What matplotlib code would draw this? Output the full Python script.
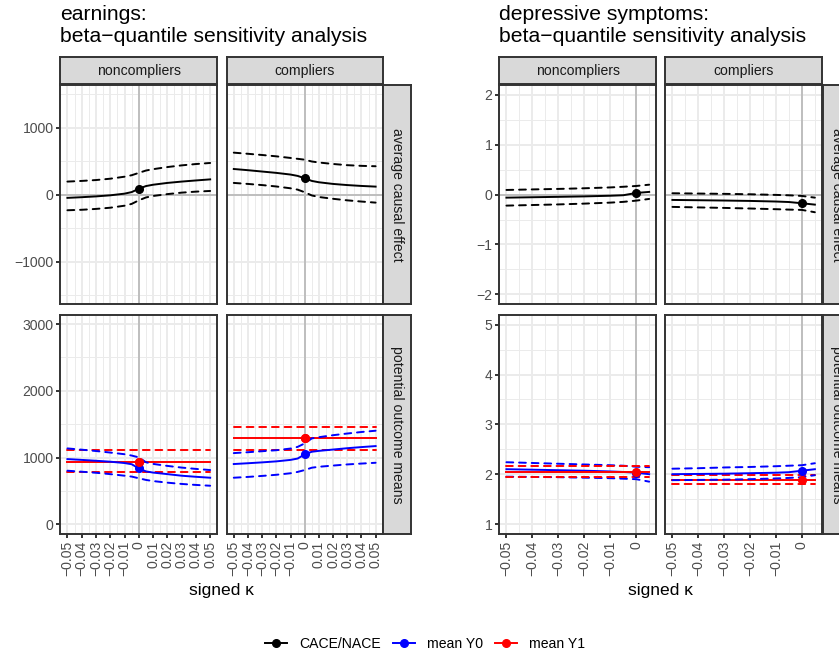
import matplotlib
matplotlib.use('Agg')
import matplotlib.pyplot as plt
from matplotlib.lines import Line2D
import numpy as np

plt.rcParams['font.family'] = ['Liberation Sans', 'DejaVu Sans']

## ---------------- data ----------------
groups = ['noncompliers', 'compliers']
rows = ['average causal effect', 'potential outcome means']
legend_labels = ['CACE/NACE', 'mean Y0', 'mean Y1']

## earnings: signed kappa from -0.05 to 0.05
kappa_earn = [-0.05, -0.04, -0.03, -0.02, -0.01, -0.005, 0, 0.005, 0.01, 0.02, 0.03, 0.04, 0.05]

earn_ace_non = [-48, -38, -26, -10, 15, 38, 88, 128, 148, 175, 195, 212, 228]
earn_ace_non_hi = [195, 205, 218, 238, 268, 290, 325, 360, 380, 412, 437, 457, 473]
earn_ace_non_lo = [-233, -226, -213, -195, -165, -138, -85, -42, -20, 8, 30, 45, 55]

earn_ace_com = [383, 365, 345, 325, 300, 280, 245, 205, 185, 160, 143, 130, 120]
earn_ace_com_hi = [627, 610, 592, 572, 548, 535, 522, 495, 480, 458, 440, 430, 424]
earn_ace_com_lo = [175, 160, 143, 122, 95, 75, 36, -12, -35, -62, -85, -103, -119]

earn_y0_non = [977, 965, 952, 938, 918, 900, 838, 793, 775, 752, 728, 712, 698]
earn_y0_non_hi = [1137, 1118, 1098, 1075, 1050, 1030, 1003, 930, 905, 875, 850, 830, 813]
earn_y0_non_lo = [803, 788, 772, 752, 728, 715, 690, 665, 648, 624, 605, 590, 578]
earn_y1_non = 928
earn_y1_non_hi = 1117
earn_y1_non_lo = 783

earn_y0_com = [903, 915, 928, 943, 965, 985, 1048, 1087, 1100, 1120, 1140, 1157, 1172]
earn_y0_com_hi = [1067, 1080, 1095, 1110, 1135, 1160, 1212, 1287, 1305, 1335, 1360, 1383, 1402]
earn_y0_com_lo = [698, 710, 725, 742, 765, 785, 813, 848, 862, 880, 897, 910, 922]
earn_y1_com = 1292
earn_y1_com_hi = 1457
earn_y1_com_lo = 1112

## depressive symptoms: signed kappa from -0.05 to 0.005
kappa_dep = [-0.05, -0.04, -0.03, -0.02, -0.01, -0.005, 0, 0.005]

dep_ace_non = [-0.06, -0.052, -0.044, -0.035, -0.022, -0.012, 0.034, 0.055]
dep_ace_non_hi = [0.094, 0.105, 0.115, 0.128, 0.145, 0.158, 0.174, 0.2]
dep_ace_non_lo = [-0.22, -0.208, -0.196, -0.18, -0.16, -0.145, -0.12, -0.086]

dep_ace_com = [-0.106, -0.112, -0.118, -0.126, -0.138, -0.148, -0.173, -0.2]
dep_ace_com_hi = [0.028, 0.022, 0.016, 0.008, -0.005, -0.013, -0.026, -0.06]
dep_ace_com_lo = [-0.246, -0.256, -0.266, -0.278, -0.292, -0.3, -0.306, -0.353]

dep_y0_non = [2.10, 2.09, 2.08, 2.07, 2.055, 2.045, 2.03, 2.00]
dep_y0_non_hi = [2.24, 2.225, 2.21, 2.195, 2.18, 2.17, 2.15, 2.14]
dep_y0_non_lo = [1.95, 1.945, 1.94, 1.93, 1.92, 1.91, 1.90, 1.85]
dep_y1_non = 2.05
dep_y1_non_hi = 2.17
dep_y1_non_lo = 1.95

dep_y0_com = [2.00, 2.005, 2.01, 2.02, 2.03, 2.04, 2.07, 2.10]
dep_y0_com_hi = [2.11, 2.12, 2.135, 2.145, 2.16, 2.17, 2.18, 2.22]
dep_y0_com_lo = [1.88, 1.885, 1.89, 1.90, 1.915, 1.925, 1.94, 1.98]
dep_y1_com = 1.89
dep_y1_com_hi = 1.99
dep_y1_com_lo = 1.80

## ---------------- style ----------------
W, H = 839, 655
GRID = '#EBEBEB'
BORDER = '#333333'
STRIP = '#D9D9D9'
TICKTXT = '#4D4D4D'
ZERO = '#BEBEBE'
LW = 1.4
DASH = (0, (3.5, 3))
FS_SMALL = 10.1   ## strip, tick and legend text
FS_TITLE = 15.2
FS_AXIS = 12.6


def box(x0, y0, x1, y1):
    ## pixel box -> figure fraction [left, bottom, width, height]
    return [x0 / W, 1 - y1 / H, (x1 - x0) / W, (y1 - y0) / H]


def fmt(v):
    s = '%g' % v
    return s.replace('-', '\u2212')


def setup_panel(ax, xlim, ylim, xmaj, xmin, ymaj, ymin, show_x, show_y, hline):
    ax.set_xlim(xlim)
    ax.set_ylim(ylim)
    ax.set_xticks(xmaj)
    ax.set_xticks(xmin, minor=True)
    ax.set_yticks(ymaj)
    ax.set_yticks(ymin, minor=True)
    ax.grid(which='major', color=GRID, lw=1.4)
    ax.grid(which='minor', color=GRID, lw=0.7)
    ax.set_axisbelow(True)
    for s in ax.spines.values():
        s.set_color(BORDER)
        s.set_linewidth(1.4)
        s.set_zorder(10)
    ax.tick_params(which='minor', length=0)
    ax.tick_params(which='major', length=2.75, width=1.4, color=BORDER,
                   labelsize=FS_SMALL, labelcolor=TICKTXT, pad=2.2)
    if show_x:
        ax.set_xticklabels([fmt(v) for v in xmaj], rotation=90)
    else:
        ax.tick_params(axis='x', which='major', length=0, labelbottom=False)
    if show_y:
        ax.set_yticklabels([fmt(v) for v in ymaj])
    else:
        ax.tick_params(axis='y', which='major', length=0, labelleft=False)
    ax.axvline(0, color=ZERO, lw=1.4, zorder=1.5)
    if hline:
        ax.axhline(0, color=ZERO, lw=1.4, zorder=1.5)


def draw_series(ax, kappa, est, hi, lo, color):
    ax.plot(kappa, est, color=color, lw=LW, zorder=3)
    ax.plot(kappa, hi, color=color, lw=LW, ls=DASH, dash_capstyle='round', zorder=3)
    ax.plot(kappa, lo, color=color, lw=LW, ls=DASH, dash_capstyle='round', zorder=3)
    i0 = kappa.index(0)
    ax.plot([0], [est[i0]], 'o', color=color, ms=5.5, zorder=4)


def strip(rect, label, rot):
    s = fig.add_axes(rect)
    s.set_facecolor(STRIP)
    s.set_xticks([])
    s.set_yticks([])
    for sp in s.spines.values():
        sp.set_color(BORDER)
        sp.set_linewidth(1.4)
    s.text(0.5, 0.5, label, rotation=rot, ha='center', va='center',
           fontsize=FS_SMALL, color='#1A1A1A', transform=s.transAxes)


fig = plt.figure(figsize=(W / 100, H / 100), dpi=100)

row_y = [(85, 304.3), (314.7, 534)]
strip_top = (57, 84)

## ---------------- earnings ----------------
cols_earn = [(60.3, 217.3), (226.7, 382.7)]
xmaj_e = [round(v, 2) for v in np.arange(-0.05, 0.051, 0.01)]
xmin_e = [round(v, 3) for v in np.arange(-0.045, 0.046, 0.01)]
earn_ace = [(earn_ace_non, earn_ace_non_hi, earn_ace_non_lo),
            (earn_ace_com, earn_ace_com_hi, earn_ace_com_lo)]
earn_y0 = [(earn_y0_non, earn_y0_non_hi, earn_y0_non_lo),
           (earn_y0_com, earn_y0_com_hi, earn_y0_com_lo)]
earn_y1 = [(earn_y1_non, earn_y1_non_hi, earn_y1_non_lo),
           (earn_y1_com, earn_y1_com_hi, earn_y1_com_lo)]

for j, (x0, x1) in enumerate(cols_earn):
    ax = fig.add_axes(box(x0, row_y[0][0], x1, row_y[0][1]))
    setup_panel(ax, (-0.055, 0.055), (-1637, 1637), xmaj_e, xmin_e,
                [-1000, 0, 1000], [-1500, -500, 500, 1500], False, j == 0, True)
    draw_series(ax, kappa_earn, *earn_ace[j], 'black')

    ax = fig.add_axes(box(x0, row_y[1][0], x1, row_y[1][1]))
    setup_panel(ax, (-0.055, 0.055), (-145, 3140), xmaj_e, xmin_e,
                [0, 1000, 2000, 3000], [500, 1500, 2500], True, j == 0, False)
    e1, h1, l1 = earn_y1[j]
    n = len(kappa_earn)
    draw_series(ax, kappa_earn, [e1] * n, [h1] * n, [l1] * n, 'red')
    draw_series(ax, kappa_earn, *earn_y0[j], 'blue')
    ax.plot([0], [e1], 'o', color='red', ms=5.5, zorder=5)

    strip(box(x0, strip_top[0], x1, strip_top[1]), groups[j], 0)

for i in range(2):
    strip(box(383.3, row_y[i][0], 411, row_y[i][1]), rows[i], -90)

## ---------------- depressive symptoms ----------------
cols_dep = [(499.3, 656.3), (665.3, 822)]
xmaj_d = [round(v, 2) for v in np.arange(-0.05, 0.001, 0.01)]
xmin_d = [round(v, 3) for v in np.arange(-0.045, 0.006, 0.01)]
dep_ace = [(dep_ace_non, dep_ace_non_hi, dep_ace_non_lo),
           (dep_ace_com, dep_ace_com_hi, dep_ace_com_lo)]
dep_y0 = [(dep_y0_non, dep_y0_non_hi, dep_y0_non_lo),
          (dep_y0_com, dep_y0_com_hi, dep_y0_com_lo)]
dep_y1 = [(dep_y1_non, dep_y1_non_hi, dep_y1_non_lo),
          (dep_y1_com, dep_y1_com_hi, dep_y1_com_lo)]

for j, (x0, x1) in enumerate(cols_dep):
    ax = fig.add_axes(box(x0, row_y[0][0], x1, row_y[0][1]))
    setup_panel(ax, (-0.05275, 0.00775), (-2.2, 2.2), xmaj_d, xmin_d,
                [-2, -1, 0, 1, 2], [-1.5, -0.5, 0.5, 1.5], False, j == 0, True)
    draw_series(ax, kappa_dep, *dep_ace[j], 'black')

    ax = fig.add_axes(box(x0, row_y[1][0], x1, row_y[1][1]))
    setup_panel(ax, (-0.05275, 0.00775), (0.8, 5.2), xmaj_d, xmin_d,
                [1, 2, 3, 4, 5], [1.5, 2.5, 3.5, 4.5], True, j == 0, False)
    e1, h1, l1 = dep_y1[j]
    n = len(kappa_dep)
    if j == 0:
        draw_series(ax, kappa_dep, *dep_y0[j], 'blue')
        draw_series(ax, kappa_dep, [e1] * n, [h1] * n, [l1] * n, 'red')
    else:
        draw_series(ax, kappa_dep, [e1] * n, [h1] * n, [l1] * n, 'red')
        draw_series(ax, kappa_dep, *dep_y0[j], 'blue')

    strip(box(x0, strip_top[0], x1, strip_top[1]), groups[j], 0)

for i in range(2):
    strip(box(822.7, row_y[i][0], 850.4, row_y[i][1]), rows[i], -90)

## ---------------- titles, axis titles, legend ----------------
fig.text(60 / W, 1 - 20 / H, 'earnings:', fontsize=FS_TITLE, va='baseline', ha='left')
fig.text(60 / W, 1 - 42.3 / H, 'beta\u2212quantile sensitivity analysis',
         fontsize=FS_TITLE, va='baseline', ha='left')
fig.text(499 / W, 1 - 20 / H, 'depressive symptoms:', fontsize=FS_TITLE, va='baseline', ha='left')
fig.text(499 / W, 1 - 42.3 / H, 'beta\u2212quantile sensitivity analysis',
         fontsize=FS_TITLE, va='baseline', ha='left')

fig.text(221.5 / W, 1 - 591 / H, 'signed \u03ba', fontsize=FS_AXIS, ha='center', va='center')
fig.text(660.5 / W, 1 - 591 / H, 'signed \u03ba', fontsize=FS_AXIS, ha='center', va='center')

handles = [Line2D([], [], color=c, lw=LW, marker='o', ms=5.5) for c in ['black', 'blue', 'red']]
fig.legend(handles, legend_labels, loc='center', bbox_to_anchor=(425 / W, 1 - 644 / H),
           ncol=3, frameon=False, fontsize=FS_SMALL, handlelength=1.6,
           handletextpad=0.85, columnspacing=0.85)

fig.savefig('out.png', dpi=100)
